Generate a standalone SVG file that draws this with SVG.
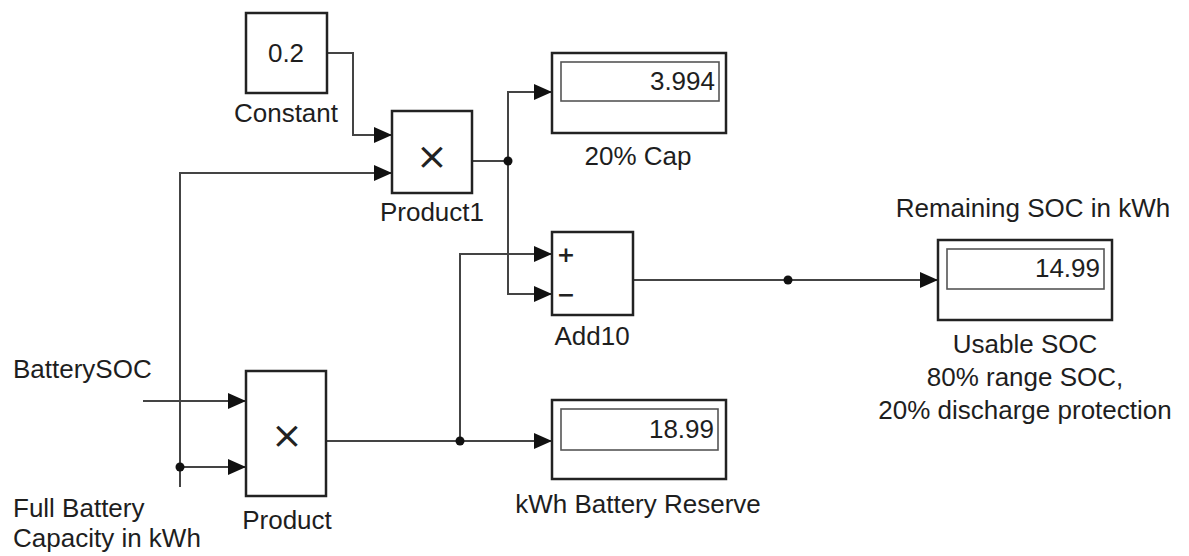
<svg xmlns="http://www.w3.org/2000/svg" width="1189" height="556" viewBox="0 0 1189 556">
  <style>
    .blk { fill: #ffffff; stroke: #222222; stroke-width: 2.5; }
    .inner { fill: #ffffff; stroke: #555555; stroke-width: 1.6; }
    .wire { fill: none; stroke: #444444; stroke-width: 2; }
    .arr { fill: none; stroke: #444444; stroke-width: 2; marker-end: url(#ah); }
    .lbl { font-family: "Liberation Sans", Arial, sans-serif; font-size: 26px; fill: #1e1e1e; }
    .mid { text-anchor: middle; }
    .num { font-family: "Liberation Sans", Arial, sans-serif; font-size: 26px; fill: #1e1e1e; text-anchor: end; }
    .sym { font-family: "DejaVu Sans", "Liberation Sans", sans-serif; fill: #222222; text-anchor: middle; }
  </style>
  <defs>
    <marker id="ah" viewBox="0 0 18 16" refX="18" refY="8" markerWidth="18" markerHeight="16" markerUnits="userSpaceOnUse" orient="auto">
      <path d="M0,0 L18,8 L0,16 z" fill="#111111"/>
    </marker>
  </defs>
  <rect width="1189" height="556" fill="#ffffff"/>

  <g id="connectors">
    <path class="arr" d="M327,53 H353 V135 H392"/>
    <path class="arr" d="M180,487 V173 H392"/>
    <path class="arr" d="M180,467 H246"/>
    <path class="arr" d="M143,401 H246"/>
    <path class="wire" d="M472,161 H508"/>
    <path class="arr" d="M508,161 V92 H552"/>
    <path class="arr" d="M508,161 V294 H552"/>
    <path class="arr" d="M326,441 H552"/>
    <path class="arr" d="M460,441 V254 H552"/>
    <path class="arr" d="M633,280 H938"/>
    <circle cx="180" cy="467" r="4.5" fill="#111111"/>
    <circle cx="508" cy="161" r="4.5" fill="#111111"/>
    <circle cx="460" cy="441" r="4.5" fill="#111111"/>
    <circle cx="788" cy="280" r="4.5" fill="#111111"/>
  </g>

  <g id="constant">
    <rect class="blk" x="246" y="13" width="81" height="80"/>
    <text class="lbl mid" x="286" y="62">0.2</text>
    <text class="lbl mid" x="286" y="122">Constant</text>
  </g>

  <g id="product1">
    <rect class="blk" x="392" y="111" width="80" height="82"/>
    <text class="sym" x="432" y="169" font-size="38">×</text>
    <text class="lbl mid" x="432" y="221">Product1</text>
  </g>

  <g id="product">
    <rect class="blk" x="246" y="371" width="80" height="125"/>
    <text class="sym" x="287" y="448" font-size="38">×</text>
    <text class="lbl mid" x="287" y="529">Product</text>
  </g>

  <g id="cap20">
    <rect class="blk" x="552" y="53" width="174" height="80"/>
    <rect class="inner" x="561" y="62" width="158" height="39"/>
    <text class="num" x="715" y="90">3.994</text>
    <text class="lbl mid" x="638" y="165">20% Cap</text>
  </g>

  <g id="add10">
    <rect class="blk" x="552" y="232" width="81" height="83"/>
    <text class="sym" x="566" y="262" font-size="22" font-weight="bold">+</text>
    <text class="sym" x="566" y="302" font-size="22" font-weight="bold">−</text>
    <text class="lbl mid" x="592" y="345">Add10</text>
  </g>

  <g id="reserve">
    <rect class="blk" x="552" y="400" width="174" height="79"/>
    <rect class="inner" x="561" y="409" width="157" height="41"/>
    <text class="num" x="714" y="438">18.99</text>
    <text class="lbl mid" x="638" y="513">kWh Battery Reserve</text>
  </g>

  <g id="usable">
    <text class="lbl mid" x="1033" y="217">Remaining SOC in kWh</text>
    <rect class="blk" x="938" y="240" width="174" height="80"/>
    <rect class="inner" x="947" y="249" width="157" height="40"/>
    <text class="num" x="1100" y="277">14.99</text>
    <text class="lbl mid" x="1025" y="353">Usable SOC</text>
    <text class="lbl mid" x="1025" y="386">80% range SOC,</text>
    <text class="lbl mid" x="1025" y="419">20% discharge protection</text>
  </g>

  <g id="inport-labels">
    <text class="lbl" x="13" y="378">BatterySOC</text>
    <text class="lbl" x="13" y="517">Full Battery</text>
    <text class="lbl" x="13" y="547">Capacity in kWh</text>
  </g>
</svg>
